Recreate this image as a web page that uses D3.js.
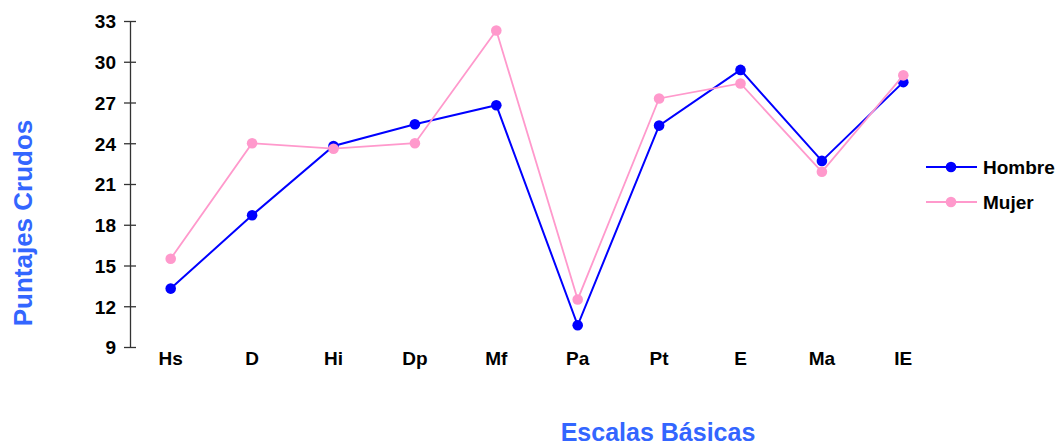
<!DOCTYPE html>
<html><head><meta charset="utf-8">
<script src="https://cdn.jsdelivr.net/npm/d3@7"></script>
<style>body{margin:0;background:#fff}svg{display:block}text{font-family:"Liberation Sans",Arial,sans-serif;font-weight:bold}</style>
</head><body><svg id="c" width="1062" height="446"></svg>
<script>
const categories = ["Hs","D","Hi","Dp","Mf","Pa","Pt","E","Ma","IE"];
const hombre = [13.3,18.7,23.8,25.4,26.8,10.6,25.3,29.4,22.7,28.5];
const mujer = [15.5,24.0,23.6,24.0,32.3,12.5,27.3,28.4,21.9,29.0];
const yTicks = [9,12,15,18,21,24,27,30,33];
const seriesNames = ["Hombre","Mujer"];

const svg = d3.select("#c");
const x = d3.scalePoint().domain(categories).range([130,944]).padding(0.5);
const y = d3.scaleLinear().domain([9,33]).range([347,21]);

// y axis
const ya = svg.append("g").attr("transform","translate(130,0)")
  .call(d3.axisLeft(y).tickValues(yTicks).tickSize(6).tickSizeOuter(0).tickPadding(8));
ya.select(".domain").attr("stroke","#333").attr("stroke-width",1.3);
ya.selectAll(".tick line").attr("stroke","#333").attr("x2",6).attr("x1",-6).attr("stroke-width",1.3);
ya.selectAll(".tick text").attr("font-size",19).attr("font-weight","bold").attr("fill","#000")
  .attr("font-family","Liberation Sans, Arial, sans-serif").attr("dy","0.36em");

// x labels
svg.append("g").selectAll("text").data(categories).join("text")
  .attr("x",d=>x(d)).attr("y",365).attr("text-anchor","middle").attr("font-size",19).attr("fill","#000").text(d=>d);

const series = [{name:seriesNames[0],vals:hombre,color:"#0000ff",w:2},{name:seriesNames[1],vals:mujer,color:"#ff99cc",w:1.8}];
const line = d3.line().x((d,i)=>x(categories[i])).y(d=>y(d));
series.forEach(s=>{
  svg.append("path").datum(s.vals).attr("d",line).attr("fill","none").attr("stroke",s.color).attr("stroke-width",s.w);
  svg.append("g").selectAll("circle").data(s.vals).join("circle")
    .attr("cx",(d,i)=>x(categories[i])).attr("cy",d=>y(d)).attr("r",5.3).attr("fill",s.color);
});

// legend
series.forEach((s,i)=>{
  const ly = 167 + i*35;
  svg.append("line").attr("x1",926).attr("x2",977).attr("y1",ly).attr("y2",ly).attr("stroke",s.color).attr("stroke-width",s.w);
  svg.append("circle").attr("cx",951).attr("cy",ly).attr("r",5.3).attr("fill",s.color);
  svg.append("text").attr("x",983).attr("y",ly+7).attr("font-size",19).attr("fill","#000").text(s.name);
});

// axis titles
svg.append("text").attr("transform","translate(32,223) rotate(-90)").attr("text-anchor","middle")
  .attr("font-size",26).attr("fill","#3366ff").text("Puntajes Crudos");
svg.append("text").attr("x",658).attr("y",441).attr("text-anchor","middle")
  .attr("font-size",25).attr("fill","#3366ff").text("Escalas Básicas");
</script></body></html>
